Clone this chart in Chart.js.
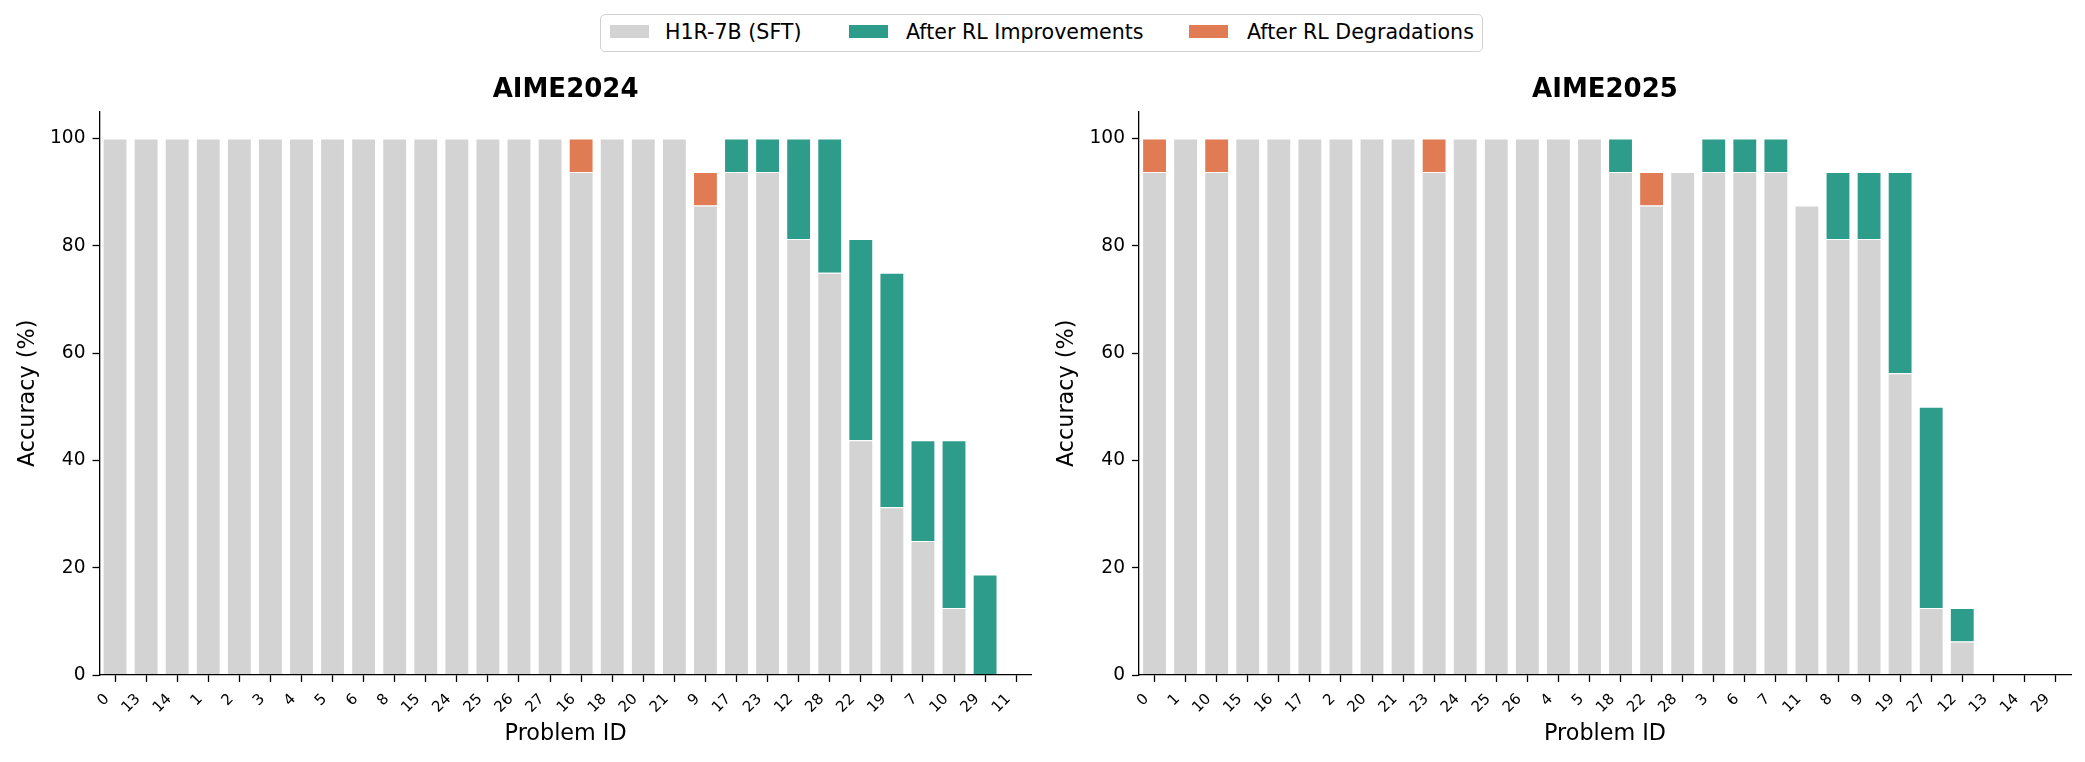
<!DOCTYPE html>
<html>
<head>
<meta charset="utf-8">
<script src="https://cdn.jsdelivr.net/npm/chart.js@4.4.1/dist/chart.umd.min.js"></script>
<style>
  html, body { margin:0; padding:0; background:#fff; width:2085px; height:762px; overflow:hidden; font-family:"DejaVu Sans", sans-serif; }
  canvas { position:absolute; top:60px; }
  #c1 { left:0px; }
  #c2 { left:1040px; }
  .legend-box { position:absolute; left:600px; top:14px; width:883px; height:38px; box-sizing:border-box; border:1.6px solid #d2d2d2; border-radius:5px; background:#fff; }
  .sw { position:absolute; top:25px; width:39px; height:12.5px; }
  .lt { position:absolute; top:21.6px; font-size:20.6px; line-height:1; color:#000; white-space:nowrap; font-family:"DejaVu Sans", sans-serif; }
</style>
</head>
<body>
<div class="legend-box"></div>
<div class="sw" id="sw0" style="left:610px;"></div>
<div class="lt" id="lt0" style="left:665px;"></div>
<div class="sw" id="sw1" style="left:849px;"></div>
<div class="lt" id="lt1" style="left:906px;"></div>
<div class="sw" id="sw2" style="left:1189px;"></div>
<div class="lt" id="lt2" style="left:1247px;"></div>
<canvas id="c1" width="1040" height="702"></canvas>
<canvas id="c2" width="1045" height="702"></canvas>
<script>
// ---- data ----
const problemIds2024 = ['0','13','14','1','2','3','4','5','6','8','15','24','25','26','27','16','18','20','21','9','17','23','12','28','22','19','7','10','29','11'];
const sft2024 = [100,100,100,100,100,100,100,100,100,100,100,100,100,100,100,100,100,100,100,93.75,93.75,93.75,81.25,75,43.75,31.25,25,12.5,0,0];
const rl2024  = [100,100,100,100,100,100,100,100,100,100,100,100,100,100,100,93.75,100,100,100,87.5,100,100,100,100,81.25,75,43.75,43.75,18.75,0];

const problemIds2025 = ['0','1','10','15','16','17','2','20','21','23','24','25','26','4','5','18','22','28','3','6','7','11','8','9','19','27','12','13','14','29'];
const sft2025 = [100,100,100,100,100,100,100,100,100,100,100,100,100,100,100,93.75,93.75,93.75,93.75,93.75,93.75,87.5,81.25,81.25,56.25,12.5,6.25,0,0,0];
const rl2025  = [93.75,100,93.75,100,100,100,100,100,100,93.75,100,100,100,100,100,100,87.5,93.75,100,100,100,87.5,93.75,93.75,93.75,50,12.5,0,0,0];

const yTickValues = [0,20,40,60,80,100];
const seriesNames = ['H1R-7B (SFT)','After RL Improvements','After RL Degradations'];
const chartTitles = ['AIME2024','AIME2025'];

// ---- styles ----
const seriesColors = ['#d3d3d3','#2e9c8a','#e07b54'];
const FONT = 'DejaVu Sans';

seriesNames.forEach((n,i)=>{
  document.getElementById('lt'+i).textContent = n;
  document.getElementById('sw'+i).style.background = seriesColors[i];
});

function nz(v){ return v === 0 ? null : v; }

function makeChart(id, title, ids, sft, rl, yAxisWidth, padRight, yTitlePad){
  const base = sft.map((s,i)=>nz(Math.min(s, rl[i])));
  const impr = sft.map((s,i)=>nz(Math.max(rl[i]-s, 0)));
  const degr = sft.map((s,i)=>nz(Math.max(s-rl[i], 0)));
  const mk = (label, data, color) => ({
    label, data, backgroundColor: color, borderColor:'#ffffff', borderWidth:1,
    barPercentage:0.8, categoryPercentage:1.0
  });
  return new Chart(document.getElementById(id), {
    type:'bar',
    data:{ labels: ids, datasets:[ mk(seriesNames[0], base, seriesColors[0]), mk(seriesNames[1], impr, seriesColors[1]), mk(seriesNames[2], degr, seriesColors[2]) ] },
    options:{
      responsive:false, animation:false, devicePixelRatio:1,
      layout:{ padding:{ left:0, right:padRight, top:0, bottom:0 } },
      plugins:{
        legend:{ display:false },
        tooltip:{ enabled:false },
        title:{ display:true, text:title, fullSize:false, color:'#000',
                font:{ family:FONT, size:26, weight:'bold' }, padding:{ top:14.9, bottom:5.6 } }
      },
      scales:{
        x:{
          stacked:true, offset:true,
          grid:{ display:true, drawOnChartArea:false, drawTicks:true, tickLength:7, tickWidth:1.3, tickColor:'#000', offset:false },
          border:{ display:true, color:'#000', width:1.3, z:1 },
          ticks:{ autoSkip:false, maxRotation:45, minRotation:45, color:'#000', font:{ family:FONT, size:15 }, padding:8.5, labelOffset:-8 },
          title:{ display:true, text:'Problem ID', color:'#000', font:{ family:FONT, size:22.3 }, padding:{ top:0, bottom:14.6 } },
          afterFit:(s)=>{ s.height = 87; }
        },
        y:{
          stacked:true, min:0, max:105,
          afterBuildTicks:(s)=>{ s.ticks = yTickValues.map(v=>({ value:v })); },
          grid:{ display:true, drawOnChartArea:false, drawTicks:true, tickLength:7, tickWidth:1.3, tickColor:'#000' },
          border:{ display:true, color:'#000', width:1.3, z:1 },
          ticks:{ color:'#000', font:{ family:FONT, size:18.6 }, padding:7 },
          title:{ display:true, text:'Accuracy (%)', color:'#000', font:{ family:FONT, size:22.3 }, padding:{ top:yTitlePad, bottom:0 } },
          afterFit:(s)=>{ s.width = yAxisWidth; }
        }
      }
    }
  });
}

makeChart('c1', chartTitles[0], problemIds2024, sft2024, rl2024, 99.5, 8.3, 14.6);
makeChart('c2', chartTitles[1], problemIds2025, sft2025, rl2025, 99, 14, 14.1);
</script>
</body>
</html>
